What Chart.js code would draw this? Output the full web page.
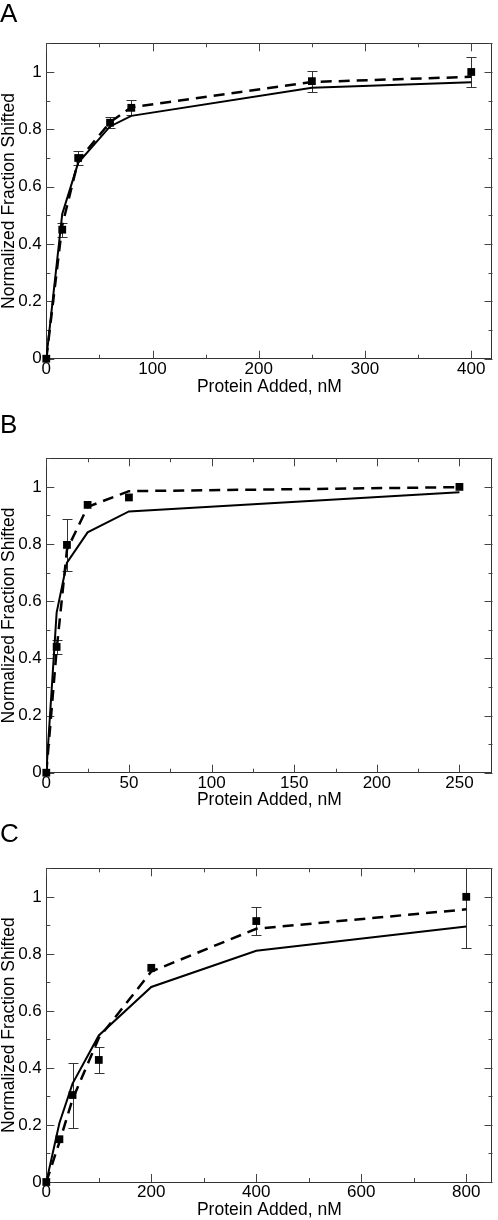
<!DOCTYPE html>
<html>
<head>
<meta charset="utf-8">
<script src="https://cdn.jsdelivr.net/npm/chart.js@4"></script>
<style>
  body { margin: 0; background: #fff; }
  #wrap { position: relative; width: 498px; height: 1220px; }
  canvas { position: absolute; left: 0; display: block; }
</style>
</head>
<body>
<div id="wrap">
  <canvas id="panelA" width="498" height="400" style="top:0px"></canvas>
  <canvas id="panelB" width="498" height="410" style="top:400px"></canvas>
  <canvas id="panelC" width="498" height="410" style="top:810px"></canvas>
</div>
<script>
/* panel A data */
const doseA = [0, 15, 30, 60, 80, 250, 400];
const meanA = [0, 0.45, 0.70, 0.823, 0.875, 0.968, 1.0];
const errA = [0, 0.025, 0.025, 0.019, 0.026, 0.037, 0.051];
const dashA = [0, 0.465, 0.69, 0.825, 0.877, 0.965, 0.983];
const solidA = [0, 0.505, 0.683, 0.81, 0.847, 0.945, 0.964];

/* panel B data */
const doseB = [0, 6.25, 12.5, 25, 50, 250];
const meanB = [0, 0.44, 0.797, 0.937, 0.963, 1.0];
const errB = [0, 0.025, 0.09, 0, 0, 0];
const dashB = [0, 0.43, 0.78, 0.93, 0.985, 0.999];
const solidB = [0, 0.56, 0.735, 0.841, 0.914, 0.981];

/* panel C data */
const doseC = [0, 25, 50, 100, 200, 400, 800];
const meanC = [0, 0.15, 0.305, 0.428, 0.751, 0.915, 1.0];
const errC = [0, 0, 0.114, 0.046, 0, 0.048, 0.18];
const dashC = [0, 0.14, 0.29, 0.505, 0.738, 0.888, 0.956];
const solidC = [0, 0.207, 0.345, 0.514, 0.684, 0.811, 0.896];

const yTicks = [0, 0.2, 0.4, 0.6, 0.8, 1];
const xTitle = "Protein Added, nM";
const yTitle = "Normalized Fraction Shifted";

Chart.defaults.font.family = "'Liberation Sans', Arial, Helvetica, sans-serif";
Chart.defaults.color = "#000";

function pts(xs, ys) {
    return xs.map((x, i) => ({ x: x, y: ys[i] }));
}

// frame, inward ticks, error bars and panel letter
const decor = {
    id: "decor",
    beforeDatasetsDraw(chart, args, o) {
        const ctx = chart.ctx, a = chart.chartArea;
        const xs = chart.scales.x, ys = chart.scales.y;
        ctx.save();
        ctx.strokeStyle = "#333";
        ctx.lineWidth = 1;
        ctx.strokeRect(Math.round(a.left) + 0.5, Math.round(a.top) + 0.5,
            Math.round(a.right - a.left) - 1, Math.round(a.bottom - a.top));
        ctx.strokeStyle = "#444";
        ctx.beginPath();
        for (let v = 0; v <= o.xMax + 1e-9; v += o.xStep / 2) {
            const px = Math.round(xs.getPixelForValue(v)) + 0.5;
            const len = Math.abs(v / o.xStep - Math.round(v / o.xStep)) < 1e-6 ? 8 : 4;
            ctx.moveTo(px, a.bottom); ctx.lineTo(px, a.bottom - len);
            ctx.moveTo(px, a.top); ctx.lineTo(px, a.top + len);
        }
        for (let k = 0; k <= 11; k++) {
            const py = Math.round(ys.getPixelForValue(k / 10)) + 0.5;
            const len = k % 2 === 0 ? 8 : 4;
            ctx.moveTo(a.left, py); ctx.lineTo(a.left + len, py);
            ctx.moveTo(a.right, py); ctx.lineTo(a.right - len, py);
        }
        ctx.stroke();

        // error bars
        ctx.beginPath();
        ctx.rect(a.left, a.top, a.right - a.left, a.bottom - a.top);
        ctx.clip();
        ctx.strokeStyle = "#333";
        ctx.beginPath();
        o.dose.forEach((d, i) => {
            if (!o.err[i]) return;
            const px = Math.round(xs.getPixelForValue(d)) + 0.5;
            const y1 = Math.round(ys.getPixelForValue(o.mean[i] + o.err[i])) + 0.5;
            const y2 = Math.round(ys.getPixelForValue(o.mean[i] - o.err[i])) + 0.5;
            ctx.moveTo(px, y1); ctx.lineTo(px, y2);
            ctx.moveTo(px - 5, y1); ctx.lineTo(px + 5, y1);
            ctx.moveTo(px - 5, y2); ctx.lineTo(px + 5, y2);
        });
        ctx.stroke();
        ctx.restore();
    },
    afterDraw(chart, args, o) {
        const ctx = chart.ctx;
        ctx.save();
        ctx.fillStyle = "#000";
        ctx.font = "26px 'Liberation Sans', Arial, sans-serif";
        ctx.textAlign = "left";
        ctx.textBaseline = "alphabetic";
        ctx.fillText(o.letter, 0, o.letterY);
        ctx.restore();
    }
};

function makePanel(id, letter, letterY, dose, mean, err, dash, solid, xMax, xStep, g) {
    new Chart(document.getElementById(id), {
        type: "line",
        data: {
            datasets: [{
                data: pts(dose, mean),
                showLine: false,
                pointStyle: "rect",
                pointRadius: 5.5,
                pointBackgroundColor: "#000",
                pointBorderWidth: 0,
                clip: false,
                order: 0
            }, {
                data: pts(dose, dash),
                borderColor: "#000",
                borderWidth: 2.5,
                borderDash: [11, 7],
                pointRadius: 0,
                tension: 0,
                order: 1
            }, {
                data: pts(dose, solid),
                borderColor: "#000",
                borderWidth: 2,
                pointRadius: 0,
                tension: 0,
                order: 2
            }]
        },
        options: {
            responsive: false,
            animation: false,
            events: [],
            layout: { padding: { top: g.top, right: 2, left: 0, bottom: 0 } },
            plugins: {
                legend: { display: false },
                tooltip: { enabled: false },
                decor: { letter: letter, letterY: letterY, dose: dose, mean: mean, err: err, xMax: xMax, xStep: xStep }
            },
            scales: {
                x: {
                    type: "linear",
                    min: 0,
                    max: xMax,
                    grid: { display: false, drawTicks: false },
                    border: { display: false },
                    ticks: {
                        stepSize: xStep,
                        includeBounds: false,
                        autoSkip: false,
                        maxRotation: 0,
                        padding: 0,
                        font: { size: 17 },
                        callback: v => (v % xStep === 0 ? String(v) : "")
                    },
                    title: {
                        display: true,
                        text: xTitle,
                        font: { size: 17.5, lineHeight: 1 },
                        padding: { top: 0, bottom: g.titlePad }
                    },
                    afterFit: s => { s.height = g.axisH; }
                },
                y: {
                    min: 0,
                    max: 1.1,
                    grid: { display: false, drawTicks: false },
                    border: { display: false },
                    ticks: {
                        stepSize: 0.2,
                        includeBounds: false,
                        autoSkip: false,
                        padding: 4.5,
                        font: { size: 17 },
                        callback: v => {
                            const t = yTicks.find(t => Math.abs(t - v) < 1e-6);
                            return t === undefined ? "" : String(t);
                        }
                    },
                    title: {
                        display: true,
                        text: yTitle,
                        font: { size: 17.5, lineHeight: 1 },
                        padding: { top: 0, bottom: 0 }
                    },
                    afterFit: s => { s.width = 46.3; }
                }
            }
        },
        plugins: [decor]
    });
}

makePanel("panelA", "A", 22, doseA, meanA, errA, dashA, solidA, 420, 100, { top: 43.3, axisH: 41.3, titlePad: 4.5 });
makePanel("panelB", "B", 33, doseB, meanB, errB, dashB, solidB, 270, 50, { top: 58.3, axisH: 37.3, titlePad: 0.75 });
makePanel("panelC", "C", 32, doseC, meanC, errC, dashC, solidC, 850, 200, { top: 58.3, axisH: 38, titlePad: 0.75 });
</script>
</body>
</html>
